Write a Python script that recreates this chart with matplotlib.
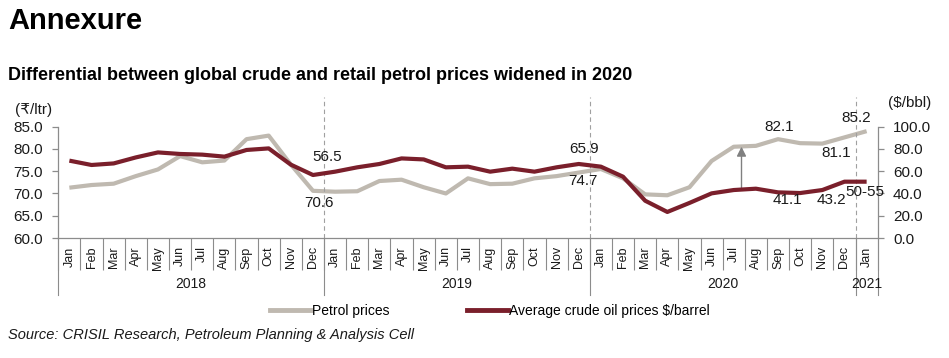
import matplotlib.pyplot as plt
import matplotlib.transforms as mtransforms
from matplotlib.lines import Line2D

# data
months = ['Jan', 'Feb', 'Mar', 'Apr', 'May', 'Jun',
          'Jul', 'Aug', 'Sep', 'Oct', 'Nov', 'Dec'] * 3 + ['Jan']
years = ['2018', '2019', '2020', '2021']
year_months = [12, 12, 12, 1]

# Rs/ltr, left axis
petrol = [71.3, 71.9, 72.2, 73.9, 75.4, 78.4, 77.0, 77.4, 82.2, 83.0, 76.5, 70.6,
          70.4, 70.5, 72.8, 73.1, 71.4, 70.0, 73.4, 72.1, 72.2, 73.4, 73.9, 74.7,
          75.5, 73.4, 69.8, 69.6, 71.4, 77.3, 80.5, 80.7, 82.2, 81.3, 81.2, 82.6, 84.0]
# $/bbl, right axis
crude = [69.5, 65.6, 67.0, 72.4, 76.9, 75.5, 74.9, 73.1, 79.1, 80.5, 65.9, 56.6,
         59.6, 63.5, 66.5, 71.5, 70.6, 63.5, 64.1, 59.6, 62.3, 59.6, 63.5, 66.5,
         64.1, 55.1, 33.5, 23.4, 31.5, 40.1, 43.1, 44.3, 41.0, 40.4, 43.1, 50.6, 50.6]

# (text, index, offset in pixels)
petrol_labels = [('70.6', 11, (6, -12)), ('74.7', 23, (4, -8)),
                 ('82.1', 32, (1, 12)), ('81.1', 34, (14, -9)),
                 ('85.2', 36, (-10, 13))]
crude_labels = [('56.5', 11, (14, 18)), ('65.9', 23, (5, 15)),
                ('41.1', 32, (9, -8)), ('43.2', 34, (9, -10)),
                ('50-55', 36, (-2, -10))]

PETROL_C = '#BFB9B0'
CRUDE_C = '#7A1F2B'
AXIS_C = '#8C8C8C'
TEXT_C = '#1A1A1A'
FONT = ['Liberation Sans', 'DejaVu Sans']

plt.rcParams['font.family'] = FONT

W, H = 949, 358
fig = plt.figure(figsize=(W / 100, H / 100), dpi=100)
ax = fig.add_axes([58.3 / W, 1 - 238 / H, (877.7 - 58.3) / W, 111.3 / H])
ax2 = ax.twinx()

x = list(range(len(months)))
ax.plot(x, petrol, color=PETROL_C, lw=3, solid_capstyle='butt', zorder=2)
ax2.plot(x, crude, color=CRUDE_C, lw=3, solid_capstyle='butt', zorder=3)

ax.set_xlim(-0.5, len(months) - 0.5)
ax.set_ylim(60, 85)
ax2.set_ylim(0, 100)
ax.set_yticks([60, 65, 70, 75, 80, 85])
ax2.set_yticks([0, 20, 40, 60, 80, 100])
ax.yaxis.set_major_formatter(plt.FormatStrFormatter('%.1f'))
ax2.yaxis.set_major_formatter(plt.FormatStrFormatter('%.1f'))

for a in (ax, ax2):
    for s in a.spines.values():
        s.set_color(AXIS_C)
        s.set_linewidth(0.9)
    a.spines['top'].set_visible(False)
    a.tick_params(axis='y', length=4, width=0.9, color=AXIS_C,
                  labelsize=11, labelcolor=TEXT_C, pad=7)
ax2.spines['left'].set_visible(False)
ax.spines['right'].set_visible(False)
ax2.spines['bottom'].set_visible(False)

# month labels and category separators
ax.set_xticks(x)
ax.set_xticklabels(months, rotation=90, fontsize=9, color=TEXT_C, va='top')
ax.tick_params(axis='x', which='major', length=0, pad=6)
ax.set_xticks([i - 0.5 for i in range(len(months) + 1)], minor=True)
ax.tick_params(axis='x', which='minor', length=23, width=0.8, color=AXIS_C)

# year groups
trans = mtransforms.blended_transform_factory(ax.transData, ax.transAxes)
start = 0
for yr, n in zip(years, year_months):
    ax.plot([start - 0.5, start - 0.5], [0, -0.51], transform=trans,
            color=AXIS_C, lw=0.8, clip_on=False)
    ax.text(start + (n - 1) / 2, -0.413, yr, transform=trans, ha='center',
            va='center', fontsize=10, color=TEXT_C)
    if 0 < start:
        ax.plot([start - 0.5, start - 0.5], [0, 1.267], transform=trans,
                color='#A0A0A0', lw=0.8, ls=(0, (4, 3)), clip_on=False)
    start += n
ax.plot([start - 0.5, start - 0.5], [0, -0.51], transform=trans,
        color=AXIS_C, lw=0.8, clip_on=False)

# data labels
for txt, i, off in petrol_labels:
    ax.annotate(txt, (i, petrol[i]), xytext=off, textcoords='offset pixels',
                ha='center', va='center', fontsize=11, color=TEXT_C)
for txt, i, off in crude_labels:
    ax2.annotate(txt, (i, crude[i]), xytext=off, textcoords='offset pixels',
                 ha='center', va='center', fontsize=11, color=TEXT_C)

# widening gap arrow
gap_i = 30
ax.annotate('', xy=(gap_i + 0.35, petrol[gap_i]),
            xytext=(gap_i + 0.35, crude[gap_i]), textcoords=ax2.transData,
            arrowprops=dict(arrowstyle='-|>', color='#808080', lw=1,
                            mutation_scale=14, shrinkA=0, shrinkB=0))

# axis unit labels
fig.text(34 / W, 1 - 110 / H, '(₹/ltr)', ha='center', va='center',
         fontsize=11, color=TEXT_C)
fig.text(910 / W, 1 - 103 / H, '($/bbl)', ha='center', va='center',
         fontsize=11, color=TEXT_C)

# titles
fig.text(8 / W, 1 - 21 / H, 'Annexure', fontsize=21, weight='bold',
         va='center', color='black')
fig.text(8 / W, 1 - 76 / H,
         'Differential between global crude and retail petrol prices widened in 2020',
         fontsize=13, weight='bold', va='center', color='black')

# legend
handles = [Line2D([], [], color=PETROL_C, lw=3.5),
           Line2D([], [], color=CRUDE_C, lw=3.5)]
fig.legend(handles, ['Petrol prices', 'Average crude oil prices $/barrel'],
           loc='center', bbox_to_anchor=(490 / W, 1 - 311 / H), ncol=2,
           frameon=False, handlelength=2.9, handletextpad=0.1,
           columnspacing=5.6, prop={'size': 10})

fig.text(8 / W, 1 - 335 / H,
         'Source: CRISIL Research, Petroleum Planning & Analysis Cell',
         fontsize=10.5, style='italic', va='center', color=TEXT_C)

fig.savefig('out.png', dpi=100)
